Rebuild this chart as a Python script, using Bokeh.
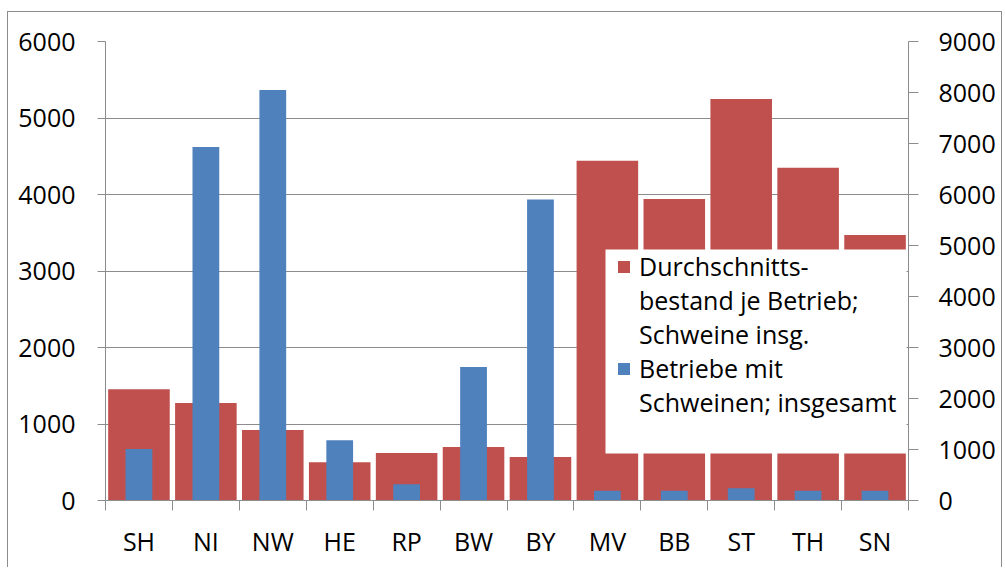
from bokeh.plotting import figure
from bokeh.models import (Range1d, LinearAxis, SingleIntervalTicker, FixedTicker,
                          Legend, LegendItem, BoxAnnotation, Node, ColumnDataSource)
from bokeh.embed import file_html
from bokeh.resources import INLINE

# ---- data ----
states = ["SH", "NI", "NW", "HE", "RP", "BW", "BY", "MV", "BB", "ST", "TH", "SN"]
avg_stock = [1455, 1275, 920, 500, 620, 700, 570, 4440, 3940, 5250, 4350, 3470]   # left axis
farms = [1010, 6930, 8050, 1180, 320, 2620, 5900, 190, 190, 240, 190, 190]        # right axis
left_ticks = [0, 1000, 2000, 3000, 4000, 5000, 6000]
right_max = 9000
label_red = ["Durchschnitts-", "bestand je Betrieb;", "Schweine insg."]
label_blue = ["Betriebe mit", "Schweinen; insgesamt"]

FONT = "Open Sans"
FS = "25px"
GRAY = "#8c8c8c"
RED = "#C0504D"
BLUE = "#4F81BD"

pos = list(range(1, len(states) + 1))
src = ColumnDataSource(dict(x=pos, state=states, avg=avg_stock, farms=farms))

p = figure(width=995, height=556, x_range=Range1d(0.5, len(states) + 0.5),
           y_range=Range1d(0, left_ticks[-1]), output_backend="svg",
           toolbar_location=None, x_axis_location=None, y_axis_location=None,
           min_border_left=97, min_border_right=95, min_border_top=29, min_border_bottom=68,
           styles={"border-top": "1px solid #8c8c8c", "border-left": "1px solid #8c8c8c",
                   "border-right": "1px solid #8c8c8c",
                   "margin-left": "7px", "margin-top": "11px"})
p.outline_line_color = None
p.background_fill_color = "white"
p.border_fill_color = "white"
p.extra_y_ranges = {"right": Range1d(0, right_max)}

# axes
xa = LinearAxis(ticker=FixedTicker(ticks=pos, minor_ticks=[i + 0.5 for i in range(len(states) + 1)]))
xa.major_label_overrides = {i: s for i, s in zip(pos, states)}
xa.major_tick_line_color = None
xa.major_tick_out = 0
xa.major_tick_in = 0
xa.minor_tick_line_color = GRAY
xa.minor_tick_out = 10
xa.minor_tick_in = 0
xa.axis_line_color = GRAY
xa.major_label_standoff = 13
xa.major_label_text_font = FONT
xa.major_label_text_font_size = FS
xa.major_label_text_color = "black"
p.add_layout(xa, "below")

ya = LinearAxis(ticker=FixedTicker(ticks=left_ticks))
ya.axis_line_color = GRAY
ya.major_tick_line_color = GRAY
ya.major_tick_out = 8
ya.major_tick_in = 0
ya.minor_tick_line_color = None
ya.major_label_standoff = 22
ya.major_label_text_font = FONT
ya.major_label_text_font_size = FS
ya.major_label_text_color = "black"
p.add_layout(ya, "left")

yr = LinearAxis(y_range_name="right", ticker=SingleIntervalTicker(interval=1000))
yr.axis_line_color = GRAY
yr.major_tick_line_color = GRAY
yr.major_tick_out = 10
yr.major_tick_in = 0
yr.minor_tick_line_color = None
yr.major_label_standoff = 20
yr.major_label_text_font = FONT
yr.major_label_text_font_size = FS
yr.major_label_text_color = "black"
p.add_layout(yr, "right")

p.xgrid.visible = False
p.ygrid.ticker = FixedTicker(ticks=left_ticks)
p.ygrid.grid_line_color = GRAY
p.ygrid.grid_line_width = 1

# bars
r_red = p.vbar(x="x", top="avg", width=0.92, bottom=0, source=src,
               fill_color=RED, line_color=None)
r_blue = p.vbar(x="x", top="farms", width=0.4, bottom=0, source=src,
                y_range_name="right", fill_color=BLUE, line_color=None)
# invisible renderer used for continuation lines of the legend labels
r_none = p.vbar(x=[], top=[], width=0.5, fill_alpha=0, line_alpha=0)

# legend background box
box = BoxAnnotation(left=Node(target="frame", symbol="left", offset=500),
                    right=Node(target="frame", symbol="right", offset=-2),
                    top=Node(target="frame", symbol="top", offset=208),
                    bottom=Node(target="frame", symbol="bottom", offset=-47),
                    fill_color="white", fill_alpha=1, line_color=None)
p.add_layout(box)

items = []
for rend, lines in ((r_red, label_red), (r_blue, label_blue)):
    for k, line in enumerate(lines):
        items.append(LegendItem(label=line, renderers=[rend if k == 0 else r_none]))

legend = Legend(items=items, location=(506, 76), padding=5, spacing=0, margin=0,
                glyph_width=15, glyph_height=15, label_standoff=8, label_height=34,
                label_text_font=FONT, label_text_font_size=FS,
                label_text_color="black",
                background_fill_alpha=0, border_line_alpha=0)
p.add_layout(legend)

open("out.html", "w").write(file_html(p, INLINE))
